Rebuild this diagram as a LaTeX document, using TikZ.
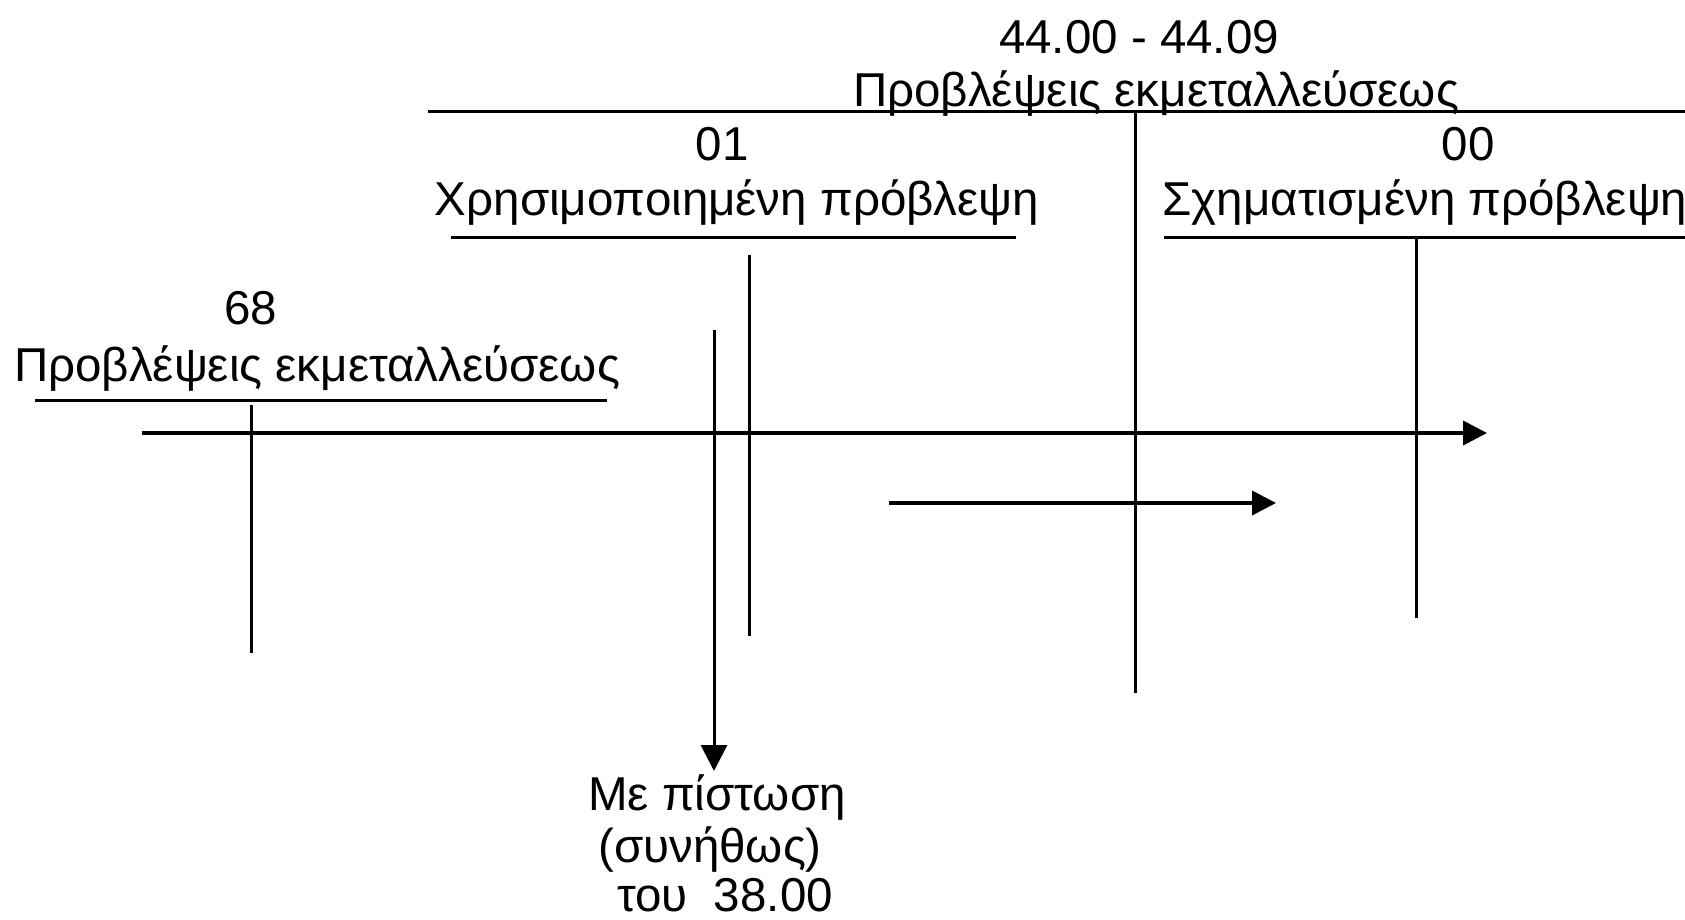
\documentclass[tikz,border=0pt]{standalone}
\usepackage{fontspec}
\setmainfont{Liberation Sans}
\usetikzlibrary{arrows.meta}
\begin{document}
\begin{tikzpicture}[x=1pt,y=-1pt,
  lbl/.style={inner sep=0pt,anchor=base,font=\fontsize{47.5}{56}\selectfont},
  rule/.style={line width=3pt},
  stem/.style={line width=3pt},
  flow/.style={line width=3.8pt,-{Triangle[length=24pt,width=24pt]}}]
\useasboundingbox (0,0) rectangle (1685,919);
% account 44.00 - 44.09
\node[lbl] (t44code) at (1139,53) {44.00 - 44.09};
\node[lbl] (t44name) at (1156,106) {Προβλέψεις εκμεταλλεύσεως};
\coordinate (t44l) at (428,111);
\coordinate (t44r) at (1685,111);
\coordinate (t44top) at (1135,111);
\coordinate (t44bot) at (1135,693);
\draw[rule] (t44l) -- (t44r);
\draw[stem] (t44top) -- (t44bot);
% sub-account 01
\node[lbl] (s01code) at (722,160) {01};
\node[lbl] (s01name) at (737,215) {Χρησιμοποιημένη πρόβλεψη};
\coordinate (s01l) at (451,237.5);
\coordinate (s01r) at (1016,237.5);
\coordinate (s01top) at (749,255);
\coordinate (s01bot) at (749,636);
\draw[rule] (s01l) -- (s01r);
\draw[stem] (s01top) -- (s01bot);
% sub-account 00
\node[lbl] (s00code) at (1468,160) {00};
\node[lbl] (s00name) at (1425,215) {Σχηματισμένη πρόβλεψη};
\coordinate (s00l) at (1164,237.5);
\coordinate (s00r) at (1685,237.5);
\coordinate (s00top) at (1416,237.5);
\coordinate (s00bot) at (1416,618);
\draw[rule] (s00l) -- (s00r);
\draw[stem] (s00top) -- (s00bot);
% account 68
\node[lbl] (a68code) at (251,324) {68};
\node[lbl] (a68name) at (317,381) {Προβλέψεις εκμεταλλεύσεως};
\coordinate (a68l) at (35,400);
\coordinate (a68r) at (607,400);
\coordinate (a68top) at (251,405);
\coordinate (a68bot) at (251,653);
\draw[rule] (a68l) -- (a68r);
\draw[stem] (a68top) -- (a68bot);
% flows
\coordinate (f1s) at (142,433);
\coordinate (f1e) at (1487,433);
\draw[flow] (f1s) -- (f1e);
\coordinate (f2s) at (889,503);
\coordinate (f2e) at (1276,503);
\draw[flow] (f2s) -- (f2e);
% credit note
\node[lbl] (credit1) at (717,810) {Με πίστωση};
\node[lbl] (credit2) at (710,862) {(συνήθως)};
\node[lbl] (credit3) at (725,911) {του\ \ 38.00};
\coordinate (f3s) at (714,330);
\coordinate (f3e) at (714,771);
\draw[stem,-{Triangle[length=26pt,width=26pt]}] (f3s) -- (f3e);
\end{tikzpicture}
\end{document}
